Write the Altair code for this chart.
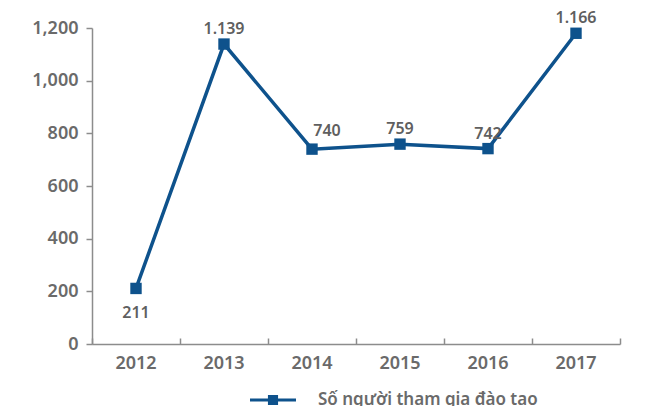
import altair as alt
import pandas as pd

years = ["2012", "2013", "2014", "2015", "2016", "2017"]
values = [211, 1139, 740, 759, 742, 1180]
labels = ["211", "1.139", "740", "759", "742", "1.166"]
label_pos = ["below", "above", "above_right", "above", "above", "above"]
series_name = "Số người tham gia đào tạo"

df = pd.DataFrame({
    "year": years,
    "value": values,
    "label": labels,
    "pos": label_pos,
    "series": [series_name] * len(years),
})

LINE = "#0e528c"
AXIS_GREY = "#8c8c8c"
TEXT_GREY = "#6a6a6a"
FONT = "Noto Sans"

legend_shape = ("M-1,-0.06 L1,-0.06 L1,0.06 L-1,0.06 Z "
                "M-0.22,-0.22 L0.22,-0.22 L0.22,0.22 L-0.22,0.22 Z")

x_bottom = alt.X("year:O", title=None, scale=alt.Scale(paddingInner=0, paddingOuter=0),
                 axis=alt.Axis(labelAngle=0, ticks=False, domainColor=AXIS_GREY, domainWidth=1.5,
                               labelColor=TEXT_GREY, labelFont=FONT, labelFontSize=18,
                               labelFontWeight=600, labelPadding=10, grid=False))

y_enc = alt.Y("value:Q", title=None,
              scale=alt.Scale(domain=[0, 1200], nice=False),
              axis=alt.Axis(values=[0, 200, 400, 600, 800, 1000, 1200], format=",.0f",
                            grid=False, domainColor=AXIS_GREY, domainWidth=1.5,
                            tickColor=AXIS_GREY, tickWidth=1.5, tickSize=6,
                            labelColor=TEXT_GREY, labelFont=FONT, labelFontSize=18,
                            labelFontWeight=600, labelPadding=8))

color_enc = alt.Color("series:N", scale=alt.Scale(range=[LINE]),
                      legend=alt.Legend(title=None, orient="none", legendX=158, legendY=349,
                                        symbolType=legend_shape, symbolSize=2116,
                                        symbolFillColor=LINE, symbolStrokeColor=LINE,
                                        symbolStrokeWidth=0, labelFont=FONT, labelFontSize=17,
                                        labelFontWeight=600, labelColor=TEXT_GREY,
                                        labelOffset=22, labelLimit=400))

line = alt.Chart(df).mark_line(strokeWidth=3.5).encode(x=x_bottom, y=y_enc, color=color_enc)
points = alt.Chart(df).mark_square(size=130, opacity=1, filled=True).encode(
    x=alt.X("year:O"), y="value:Q", color=alt.Color("series:N", legend=None))

def label_layer(pos, baseline, dx, dy):
    return alt.Chart(df).transform_filter(alt.datum.pos == pos).mark_text(
        baseline=baseline, dx=dx, dy=dy, font=FONT, fontSize=16, fontWeight=600,
        color="#5f5f5f"
    ).encode(x=alt.X("year:O"), y="value:Q", text="label:N")

text_above = label_layer("above", "alphabetic", 0, -10)
text_above_right = label_layer("above_right", "alphabetic", 15, -13)
text_below = label_layer("below", "top", 0, 17)

tick_layer = alt.Chart(df).mark_point(opacity=0).encode(
    x=alt.X("year:O", title=None, scale=alt.Scale(paddingInner=0, paddingOuter=0),
            axis=alt.Axis(orient="top", offset=-316, labels=False, domain=False,
                          ticks=True, tickBand="extent", tickSize=6, tickWidth=1.5,
                          tickColor=AXIS_GREY, grid=False)),
    y=y_enc)

base = alt.layer(line, points, text_above, text_above_right, text_below)
chart = alt.layer(base, tick_layer).resolve_axis(x="independent").properties(
    width=528, height=316,
    background="white",
    autosize=alt.AutoSizeParams(type="none"),
    padding={"left": 84, "top": 20, "right": 20, "bottom": 62},
).configure_view(stroke=None)

chart.save("out.html", embed_options={"renderer": "svg", "actions": False})
